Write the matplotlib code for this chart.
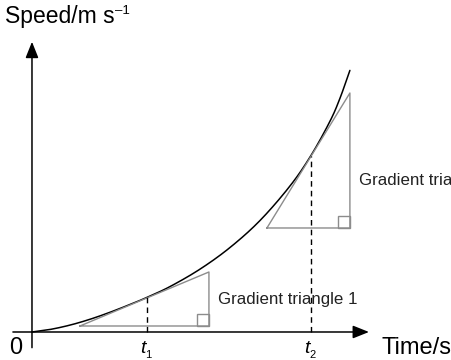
import numpy as np
import matplotlib.pyplot as plt
from matplotlib.patches import Rectangle

plt.rcParams['font.family'] = ['Liberation Sans', 'DejaVu Sans']

# speed-time curve (arbitrary units, 0..10 on both axes)
time = [0, 0.566, 1.195, 1.824, 2.453, 3.082, 3.616, 4.340, 5.283,
        6.226, 7.170, 8.113, 8.774, 9.371, 9.686, 10.0]
speed = [0, 0.096, 0.264, 0.487, 0.755, 1.054, 1.326, 1.739, 2.406,
         3.234, 4.268, 5.590, 6.759, 8.069, 8.950, 10.023]

# tangent points
t_marks = [3.616, 8.774]
v_marks = [1.326, 6.759]
t_subs = ['1', '2']

# gradient triangles: (left t, right t, base v, top v)
triangles = [(1.509, 5.566, 0.230, 2.299), (7.390, 10.0, 3.985, 9.157)]
tri_labels = ['Gradient triangle 1', 'Gradient triangle 2']


def smooth(xs, ys, n=20):
    """ Catmull-Rom pass through the read points so the line has no kinks. """
    x = np.asarray(xs, float)
    y = np.asarray(ys, float)
    px = np.concatenate([[2 * x[0] - x[1]], x, [2 * x[-1] - x[-2]]])
    py = np.concatenate([[2 * y[0] - y[1]], y, [2 * y[-1] - y[-2]]])
    out_x, out_y = [], []
    s = np.linspace(0, 1, n, endpoint=False)
    for i in range(1, len(px) - 2):
        for arr, out in ((px, out_x), (py, out_y)):
            p0, p1, p2, p3 = arr[i - 1:i + 3]
            out.extend(0.5 * ((2 * p1) + (-p0 + p2) * s
                              + (2 * p0 - 5 * p1 + 4 * p2 - p3) * s ** 2
                              + (-p0 + 3 * p1 - 3 * p2 + p3) * s ** 3))
    out_x.append(x[-1])
    out_y.append(y[-1])
    return out_x, out_y


fig = plt.figure(figsize=(4.51, 3.60), dpi=100)
ax = fig.add_axes([0, 0, 1, 1])
ax.set_xlim(-1.006, 13.18)
ax.set_ylim(-1.073, 12.72)
ax.axis('off')

grey = '#8c8c8c'

# axes with arrows
arrow = dict(arrowstyle='-|>,head_length=0.7,head_width=0.28', color='black',
             lw=1.1, mutation_scale=14, shrinkA=0, shrinkB=0)
ax.annotate('', xy=(10.6, 0), xytext=(-0.6, 0), arrowprops=arrow)
ax.annotate('', xy=(0, 11.12), xytext=(0, -0.6), arrowprops=arrow)

# curve
cx, cy = smooth(time, speed)
ax.plot(cx, cy, color='black', lw=1.1, solid_capstyle='round')

# triangles
sq_w, sq_h = 0.38, 0.46
for (x0, x1, y0, y1), lab, ly in zip(triangles, tri_labels, [1.23, 5.82]):
    ax.plot([x0, x1, x1, x0], [y0, y0, y1, y0], color=grey, lw=1.0)
    ax.add_patch(Rectangle((x1 - sq_w, y0), sq_w, sq_h, fill=False,
                           edgecolor=grey, lw=1.0))
    ax.text(x1 + 0.28, ly, lab, fontsize=12.2, va='center', ha='left',
            color='#222222')

# dashed drop lines and labels
for t, v, sub in zip(t_marks, v_marks, t_subs):
    ax.plot([t, t], [0, v], color='black', lw=1.0, dashes=(4, 3))
    tt = ax.text(t - 0.12, -0.62, 't', fontsize=14, style='italic',
                 ha='center', va='center')
    ax.annotate(sub, xy=(0.95, 0.08), xycoords=tt, fontsize=8,
                ha='left', va='center')

ax.text(-0.51, -0.62, '0', fontsize=17, ha='center', va='center')
ax.text(11.0, -0.62, 'Time/s', fontsize=17, ha='left', va='center')
sp = ax.text(-0.84, 12.07, 'Speed/m s', fontsize=16.5, ha='left', va='center')
ax.annotate('\u20131', xy=(1.0, 0.78), xycoords=sp, fontsize=9.5,
            ha='left', va='center')

fig.savefig('out.png', dpi=100)
